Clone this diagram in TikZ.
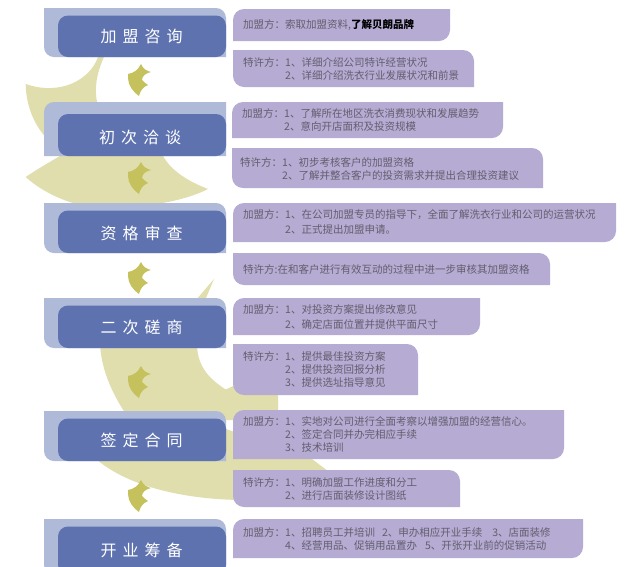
\documentclass[tikz,border=0pt]{standalone}
\usepackage{fontspec}
\setmainfont{Noto Sans CJK SC}
\definecolor{moon}{HTML}{DFDEAC}
\definecolor{leafcol}{HTML}{C5C15C}
\definecolor{stepback}{HTML}{AEBAD8}
\definecolor{stepfront}{HTML}{5E72B0}
\definecolor{infofill}{HTML}{B6ABD2}
\definecolor{infotext}{HTML}{625E6E}
\tikzset{
    steplabel/.style={text=white,font=\fontsize{16}{16}\selectfont},
    infolabel/.style={anchor=west,align=left,inner sep=0pt,text=infotext,font=\fontsize{10.5}{13}\selectfont},
    leaf/.pic={\fill[leafcol] (0,0) .. controls (2,5) and (6,7) .. (10,8) .. controls (5,9) and (1,12) .. (1,16)
        .. controls (3,18) and (5,20) .. (7,21) .. controls (2,23) and (-1,27) .. (-2,32)
        .. controls (-8,28) and (-13,21) .. (-13,14) -- (-13,10) .. controls (-7,9) and (-3,6) .. (0,0) -- cycle;}
}
%% purple box, rounded at top left and bottom right
\newcommand{\infoleft}[4]{\fill[infofill] (#1,#4) [rounded corners=11pt] -- (#1,#2) [sharp corners] -- (#3,#2) [rounded corners=11pt] -- (#3,#4) [sharp corners] -- cycle;}
%% purple box, rounded at top right and bottom left
\newcommand{\inforight}[4]{\fill[infofill] (#3,#4) [rounded corners=11pt] -- (#3,#2) [sharp corners] -- (#1,#2) [rounded corners=11pt] -- (#1,#4) [sharp corners] -- cycle;}
%% step box with its paler shadow
\newcommand{\stepbox}[2]{
    \fill[stepback] (226,#2) [rounded corners=10pt] -- (44,#2) [sharp corners] -- (44,#1) [rounded corners=10pt] -- (226,#1) [sharp corners] -- cycle;
    \fill[stepfront,rounded corners=10pt] (58,#1+7.5) rectangle (226,#2);
}
\begin{document}
\begin{tikzpicture}[x=1pt,y=-1pt]
    \useasboundingbox (0,0) rectangle (637,566);
    \fill[white] (0,0) rectangle (637,566);
    %% upper moon
    \fill[moon] (106,50) -- (98,57) .. controls (90,80) and (60,96) .. (25.7,84) .. controls (26,110) and (38,135) .. (60,150)
        -- (100,150) -- (97,102) .. controls (94,88) and (97,72) .. (104,57) -- cycle;
    \fill[moon] (25.7,177) .. controls (36,170) and (48,163) .. (60,156) -- (163,156)
        .. controls (172,172) and (190,182) .. (208,189) .. controls (190,198) and (165,204) .. (143,205)
        -- (80,205) .. controls (60,200) and (40,190) .. (25.7,177) -- cycle;
    %% lower moon
    \fill[moon] (214,279) -- (196,300) -- (100,340) .. controls (100,365) and (110,392) .. (130,420) -- (240,420)
        -- (278,420) -- (278,388) -- (233,386) .. controls (225,390) and (225,390) .. (225,389)
        .. controls (208,378) and (196,365) .. (197,340) -- (206,298) -- cycle;
    \fill[moon] (95,458) .. controls (125,485) and (180,499) .. (240,500) -- (345,484) -- (312,459) -- (200,420) -- (120,440) -- cycle;
    %% steps
    \stepbox{8}{57}
    \fill[stepback] (226,156) -- (44,156) [rounded corners=10pt] -- (44,102) [sharp corners] -- (226,102) -- cycle;
    \fill[stepfront,rounded corners=10pt] (58,114) rectangle (226,156);
    \stepbox{203}{253}
    \stepbox{298}{348}
    \stepbox{411}{461}
    \stepbox{519}{575}
    \node[steplabel] (stepa) at (141.5,36) {加\hspace{6pt}盟\hspace{6pt}咨\hspace{6pt}询};
    \node[steplabel] (stepb) at (140,137) {初\hspace{6pt}次\hspace{6pt}洽\hspace{6pt}谈};
    \node[steplabel] (stepc) at (141.5,233) {资\hspace{6pt}格\hspace{6pt}审\hspace{6pt}查};
    \node[steplabel] (stepd) at (141.5,327) {二\hspace{6pt}次\hspace{6pt}磋\hspace{6pt}商};
    \node[steplabel] (stepe) at (141.5,440) {签\hspace{6pt}定\hspace{6pt}合\hspace{6pt}同};
    \node[steplabel] (stepf) at (141.5,550) {开\hspace{6pt}业\hspace{6pt}筹\hspace{6pt}备};
    %% leaves
    \pic at (141,64) {leaf};
    \pic at (141,162) {leaf};
    \pic at (141,262) {leaf};
    \pic at (141,366) {leaf};
    \pic at (141,480) {leaf};
    %% purple boxes
    \infoleft{233}{9}{450}{41}
    \inforight{233}{50}{474}{87}
    \infoleft{232}{102}{503}{138}
    \inforight{232}{148}{543}{188}
    \infoleft{233}{203}{616}{242}
    \inforight{233}{253}{550}{285}
    \infoleft{233}{298}{480}{335}
    \inforight{233}{344}{418}{395}
    \infoleft{233}{410}{564}{459}
    \inforight{233}{470}{460}{507}
    \infoleft{233}{519}{583}{558}
    %% texts
    \node[infolabel] (infoa) at (243,25) {加盟方：索取加盟资料,{\color{black}\bfseries 了解贝朗品牌}};
    \node[infolabel] (infob) at (243,68.5) {特许方：1、详细介绍公司特许经营状况\\\hspace*{42pt}2、详细介绍洗衣行业发展状况和前景};
    \node[infolabel] (infoc) at (242,119.5) {加盟方：1、了解所在地区洗衣消费现状和发展趋势\\\hspace*{42pt}2、意向开店面积及投资规模};
    \node[infolabel] (infod) at (240,168.5) {特许方：1、初步考核客户的加盟资格\\\hspace*{42pt}2、了解并整合客户的投资需求并提出合理投资建议};
    \node[infolabel] (infoe) at (243,221.5) {加盟方：1、在公司加盟专员的指导下，全面了解洗衣行业和公司的运营状况\\[2pt]\hspace*{42pt}2、正式提出加盟申请。};
    \node[infolabel] (infof) at (243,269) {特许方:在和客户进行有效互动的过程中进一步审核其加盟资格};
    \node[infolabel] (infog) at (243,316.5) {加盟方：1、对投资方案提出修改意见\\[2pt]\hspace*{42pt}2、确定店面位置并提供平面尺寸};
    \node[infolabel] (infoh) at (243,369) {特许方：1、提供最佳投资方案\\\hspace*{42pt}2、提供投资回报分析\\\hspace*{42pt}3、提供选址指导意见};
    \node[infolabel] (infoi) at (243,434) {加盟方：1、实地对公司进行全面考察以增强加盟的经营信心。\\\hspace*{42pt}2、签定合同并办完相应手续\\\hspace*{42pt}3、技术培训};
    \node[infolabel] (infoj) at (243,488.5) {特许方：1、明确加盟工作进度和分工\\\hspace*{42pt}2、进行店面装修设计图纸};
    \node[infolabel] (infok) at (243,538.5) {加盟方：1、招聘员工并培训\hspace{7pt}2、申办相应开业手续\hspace{10pt}3、店面装修\\\hspace*{42pt}4、经营用品、促销用品置办\hspace{8pt}5、开张开业前的促销活动};
\end{tikzpicture}
\end{document}
